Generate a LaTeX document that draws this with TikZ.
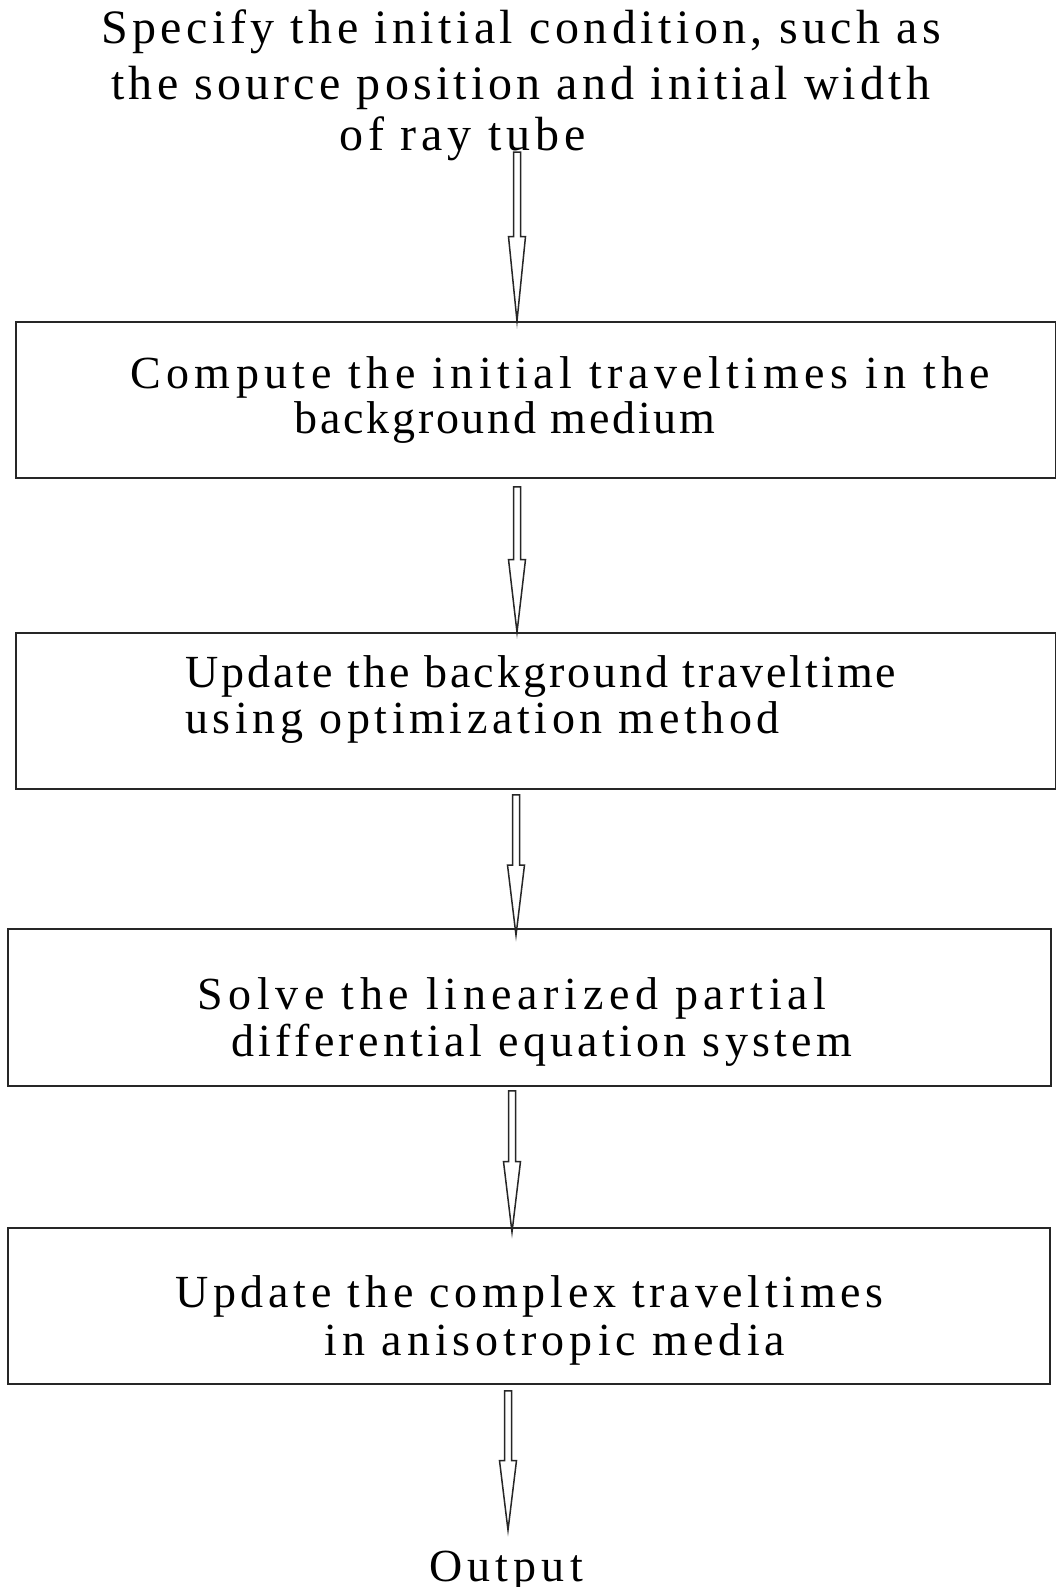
\documentclass[tikz,border=0pt]{standalone}
\usepackage{fontspec}
\setmainfont{Liberation Serif}
\usetikzlibrary{calc}
\tikzset{
  flowbox/.style={draw=black!85, line width=0.9pt, rectangle, inner sep=0pt},
  linetext/.style={anchor=base west, inner sep=0pt,
    font=\fontsize{23}{24}\selectfont\addfontfeature{LetterSpace=#1}},
  titletext/.style={anchor=base west, inner sep=0pt,
    font=\fontsize{24}{26}\selectfont\addfontfeature{LetterSpace=#1}},
  blockarrow/.style={draw=black!85, line width=0.75pt, fill=white, line join=miter}
}
\newcommand{\hollowarrow}[2]{%
  \path (#1) -- (#2) coordinate[pos=0.5] (hamid);
  \draw[blockarrow] ($(#1)+(-3.5,0)$) -- ($(hamid)+(-3.5,0)$) -- ($(hamid)+(-8.5,0)$)
    -- (#2) -- ($(hamid)+(8.5,0)$) -- ($(hamid)+(3.5,0)$) -- ($(#1)+(3.5,0)$) -- cycle;}
\begin{document}
\begin{tikzpicture}[x=0.5pt,y=-0.5pt]
\useasboundingbox (0,0) rectangle (1056,1587);
% title
\node[titletext=9.2] (t1) at (101,43) {Specify the initial condition, such as};
\node[titletext=8.7] (t2) at (111,99) {the source position and initial width};
\node[titletext=10] (t3) at (339,150) {of ray tube};
% boxes
\node[flowbox, minimum width=520pt, minimum height=78pt] (b1) at (536,400) {};
\node[flowbox, minimum width=520pt, minimum height=78pt] (b2) at (536,711) {};
\node[flowbox, minimum width=521.5pt, minimum height=78.5pt] (b3) at (529.5,1007.5) {};
\node[flowbox, minimum width=521pt, minimum height=78pt] (b4) at (529,1306) {};
% box texts
\node[linetext=11.8] (b1a) at (130,388) {Compute the initial traveltimes in the};
\node[linetext=6] (b1b) at (294,433) {background medium};
\node[linetext=6.5] (b2a) at (185,687) {Update the background traveltime};
\node[linetext=10] (b2b) at (185,733) {using optimization method};
\node[linetext=12.2] (b3a) at (197,1009) {Solve the linearized partial};
\node[linetext=9.4] (b3b) at (231,1056) {differential equation system};
\node[linetext=10.2] (b4a) at (175,1307) {Update the complex traveltimes};
\node[linetext=10.9] (b4b) at (324,1355) {in anisotropic media};
\node[linetext=11.2] (out) at (429,1581) {Output};
% arrow endpoints
\coordinate (a1s) at (517,152);
\coordinate (a1e) at (b1.north -| 517,0);
\coordinate (a2s) at ($(b1.south -| 517,0)+(0,8)$);
\coordinate (a2e) at (b2.north -| 517,0);
\coordinate (a3s) at ($(b2.south -| 516,0)+(0,5)$);
\coordinate (a3e) at ($(b3.north -| 516,0)+(0,7)$);
\coordinate (a4s) at ($(b3.south -| 512,0)+(0,4)$);
\coordinate (a4e) at ($(b4.north -| 512,0)+(0,5)$);
\coordinate (a5s) at ($(b4.south -| 508,0)+(0,6)$);
\coordinate (a5e) at ($(out.north -| 508,0)+(0,-20)$);
\hollowarrow{a1s}{a1e}
\hollowarrow{a2s}{a2e}
\hollowarrow{a3s}{a3e}
\hollowarrow{a4s}{a4e}
\hollowarrow{a5s}{a5e}
\end{tikzpicture}
\end{document}
